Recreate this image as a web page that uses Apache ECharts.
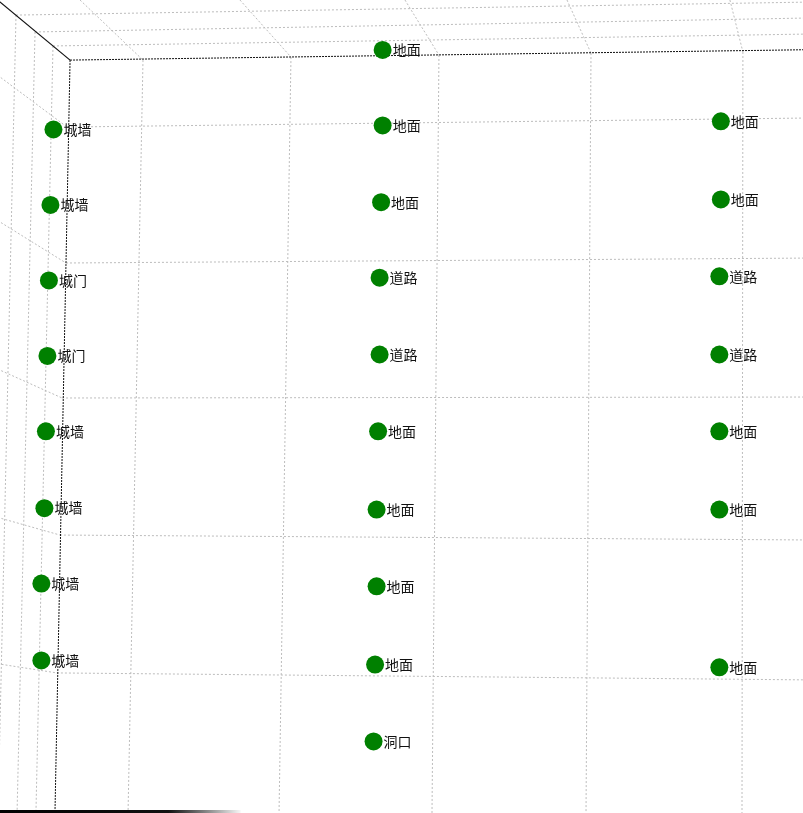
<!DOCTYPE html>
<html>
<head>
<meta charset="utf-8">
<script src="https://cdn.jsdelivr.net/npm/echarts@6/dist/echarts.min.js"></script>
<style>
html,body{margin:0;padding:0;background:#fff;}
#main{width:803px;height:813px;}
</style>
</head>
<body>
<div id="main"></div>
<script>
// ---- data ----
const pointX = [0.46,0.44,0.43,0.42,0.41,0.40,0.38,0.38,
                2.64,2.64,2.63,2.62,2.62,2.61,2.60,2.60,2.59,2.58,
                4.88,4.88,4.87,4.87,4.87,4.87,4.87];
const pointY = [4.96,4.41,3.86,3.31,2.76,2.20,1.65,1.09,
                5.54,4.99,4.43,3.88,3.32,2.76,2.19,1.63,1.06,0.50,
                5.02,4.45,3.89,3.32,2.76,2.19,1.04];
const pointLabel = ['城墙','城墙','城门','城门','城墙','城墙','城墙','城墙',
                    '地面','地面','地面','道路','道路','地面','地面','地面','地面','洞口',
                    '地面','地面','道路','道路','地面','地面','地面'];

// ---- 3D box wireframe (axis planes seen in perspective) ----
const gridFront = [
  [[1.053,5.466],[0.954,-0.022]],
  [[2.033,5.488],[1.954,-0.022]],
  [[3.013,5.503],[2.967,-0.022]],
  [[4.020,5.517],[3.987,-0.022]],
  [[5.026,5.525],[5.020,-0.022]],
  [[0.550,4.978],[5.470,5.044]],
  [[0.543,3.987],[5.470,4.023]],
  [[0.517,3.003],[5.470,3.010]],
  [[0.503,2.004],[5.470,1.968]],
  [[0.483,0.999],[5.470,0.948]]
];
const gridTop = [
  [[0.636,5.904],[1.053,5.466]],
  [[1.695,5.904],[2.033,5.488]],
  [[2.788,5.904],[3.013,5.503]],
  [[3.861,5.904],[4.020,5.517]],
  [[4.940,5.904],[5.026,5.525]],
  [[0.212,5.794],[5.470,5.889]],
  [[0.338,5.671],[5.470,5.773]],
  [[0.457,5.569],[5.470,5.656]]
];
const gridSide = [
  [[0.212,5.794],[0.093,-0.022]],
  [[0.338,5.671],[0.219,-0.022]],
  [[0.457,5.569],[0.344,-0.022]],
  [[0.090,5.356],[0.550,4.978]],
  [[0.090,4.297],[0.543,3.987]],
  [[0.090,3.214],[0.517,3.003]],
  [[0.090,2.133],[0.503,2.004]],
  [[0.090,1.066],[0.483,0.999]]
];
const edgeFront = [
  [[0.570,5.466],[5.470,5.542]],
  [[0.570,5.466],[0.470,-0.022]]
];
const edgeDepth = [
  [[0.080,5.913],[0.570,5.466]]
];
const edgeBottom = [
  [[0.080,-0.010],[1.700,-0.010]]
];

const toLines = segs => segs.map(s => ({coords: s}));
const chart = echarts.init(document.getElementById('main'), null, {renderer: 'canvas'});
const grayStyle = {color: '#bdbdbd', width: 1, type: [2, 2], opacity: 1};

chart.setOption({
  animation: false,
  backgroundColor: '#ffffff',
  grid: {left: 0, right: 0, top: 0, bottom: 0, containLabel: false},
  xAxis: {type: 'value', min: 0.106, max: 5.424, show: false},
  yAxis: {type: 'value', min: -0.022, max: 5.904, show: false},
  series: [
    {type: 'lines', coordinateSystem: 'cartesian2d', clip: false, silent: true, z: 1,
     lineStyle: grayStyle, data: toLines(gridFront.concat(gridTop, gridSide))},
    {type: 'lines', coordinateSystem: 'cartesian2d', clip: false, silent: true, z: 2,
     lineStyle: {color: '#111', width: 1, type: [2, 1], opacity: 1}, data: toLines(edgeFront)},
    {type: 'lines', coordinateSystem: 'cartesian2d', clip: false, silent: true, z: 2,
     lineStyle: {color: '#111', width: 1.2, type: 'solid', opacity: 1}, data: toLines(edgeDepth)},
    {type: 'lines', coordinateSystem: 'cartesian2d', clip: false, silent: true, z: 2,
     lineStyle: {width: 3, type: 'solid', opacity: 1,
       color: new echarts.graphic.LinearGradient(0, 0, 1, 0, [
         {offset: 0, color: '#000'}, {offset: 0.7, color: '#111'}, {offset: 1, color: 'rgba(0,0,0,0)'}])},
     data: toLines(edgeBottom)},
    {type: 'scatter', clip: false, z: 5,
     symbol: 'circle', symbolSize: 18,
     itemStyle: {color: '#008000', opacity: 1},
     label: {show: true, position: 'right', distance: 1,
       formatter: p => pointLabel[p.dataIndex],
       color: '#111', fontSize: 14, fontFamily: '"Noto Sans CJK SC", sans-serif'},
     data: pointX.map((x, i) => [x, pointY[i]])}
  ]
});
</script>
</body>
</html>
